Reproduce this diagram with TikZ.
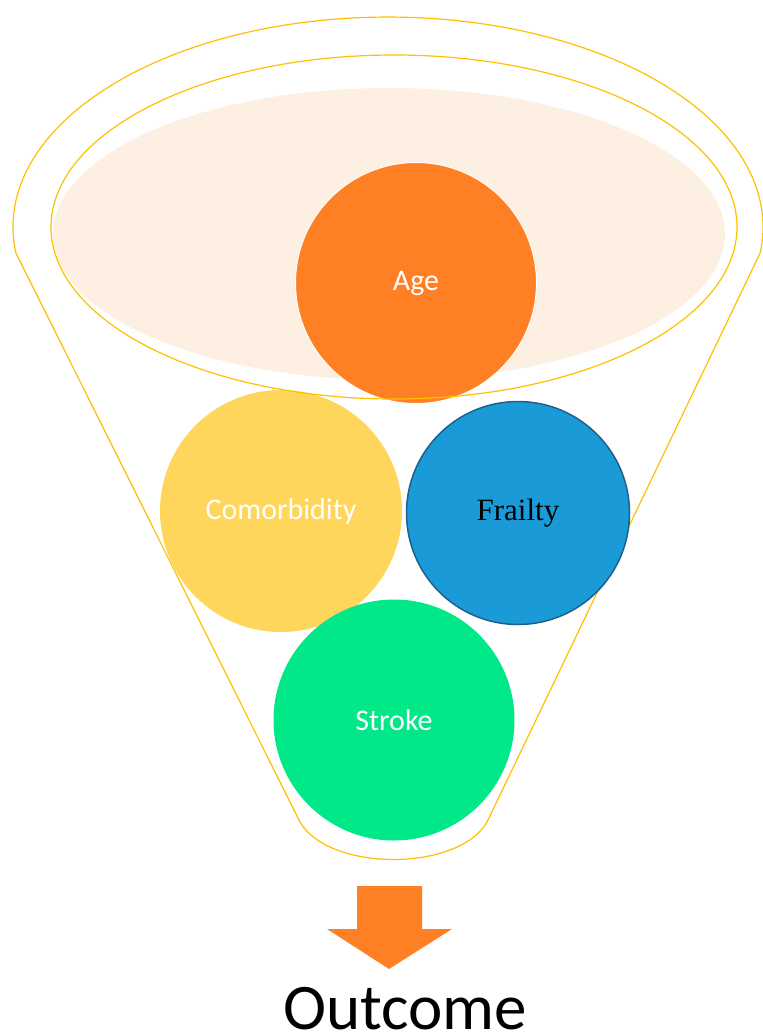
\documentclass[tikz,border=0pt]{standalone}
\usepackage{fontspec}
\setmainfont{Carlito}
\newfontfamily\serifone{Liberation Serif}
\definecolor{funnelgold}{RGB}{255,192,0}
\definecolor{peach}{RGB}{253,239,225}
\definecolor{ageorange}{RGB}{255,127,36}
\definecolor{comyellow}{RGB}{255,214,92}
\definecolor{frailblue}{RGB}{26,154,214}
\definecolor{fraildark}{RGB}{30,96,140}
\definecolor{strokegreen}{RGB}{0,232,136}
\begin{document}
\begin{tikzpicture}[x=1pt,y=-1pt,
  gold/.style={draw=funnelgold, line width=1.2pt},
  ball/.style={circle, inner sep=0pt, font=\fontsize{30}{36}\selectfont},
]
\useasboundingbox (0,0) rectangle (763,1034);
% funnel outline
\draw[gold] (300,822) -- (15.9,253)
  arc[start angle=172.9, end angle=367.1, x radius=375, y radius=210]
  -- (487,822) .. controls (458,872) and (329,872) .. cycle;
% peach fill
\fill[peach] (389,234) ellipse[x radius=336, y radius=146];
% circles
\node[ball, fill=ageorange, draw=white, line width=1pt, minimum size=241pt, text=white] (age) at (416,283) {Age};
\node[ball, fill=comyellow, minimum size=242pt, text=white] (com) at (281,511) {Comorbidity};
\node[ball, fill=frailblue, draw=fraildark, line width=1.5pt, minimum size=223pt, text=black, font=\serifone\fontsize{31}{36}\selectfont] (frail) at (518,513) {Frailty};
\node[ball, fill=strokegreen, minimum size=241pt, text=white] (stroke) at (394,720) {Stroke};
% inner rim
\draw[gold] (394,227) ellipse[x radius=343, y radius=172];
% arrow
\fill[ageorange] (357,886) -- (422,886) -- (422,929) -- (452,929) -- (389,969) -- (327,929) -- (357,929) -- cycle;
\node[anchor=base, font=\fontsize{65}{70}\selectfont, inner sep=0pt] (outcome) at (405,1029) {Outcome};
\end{tikzpicture}
\end{document}
